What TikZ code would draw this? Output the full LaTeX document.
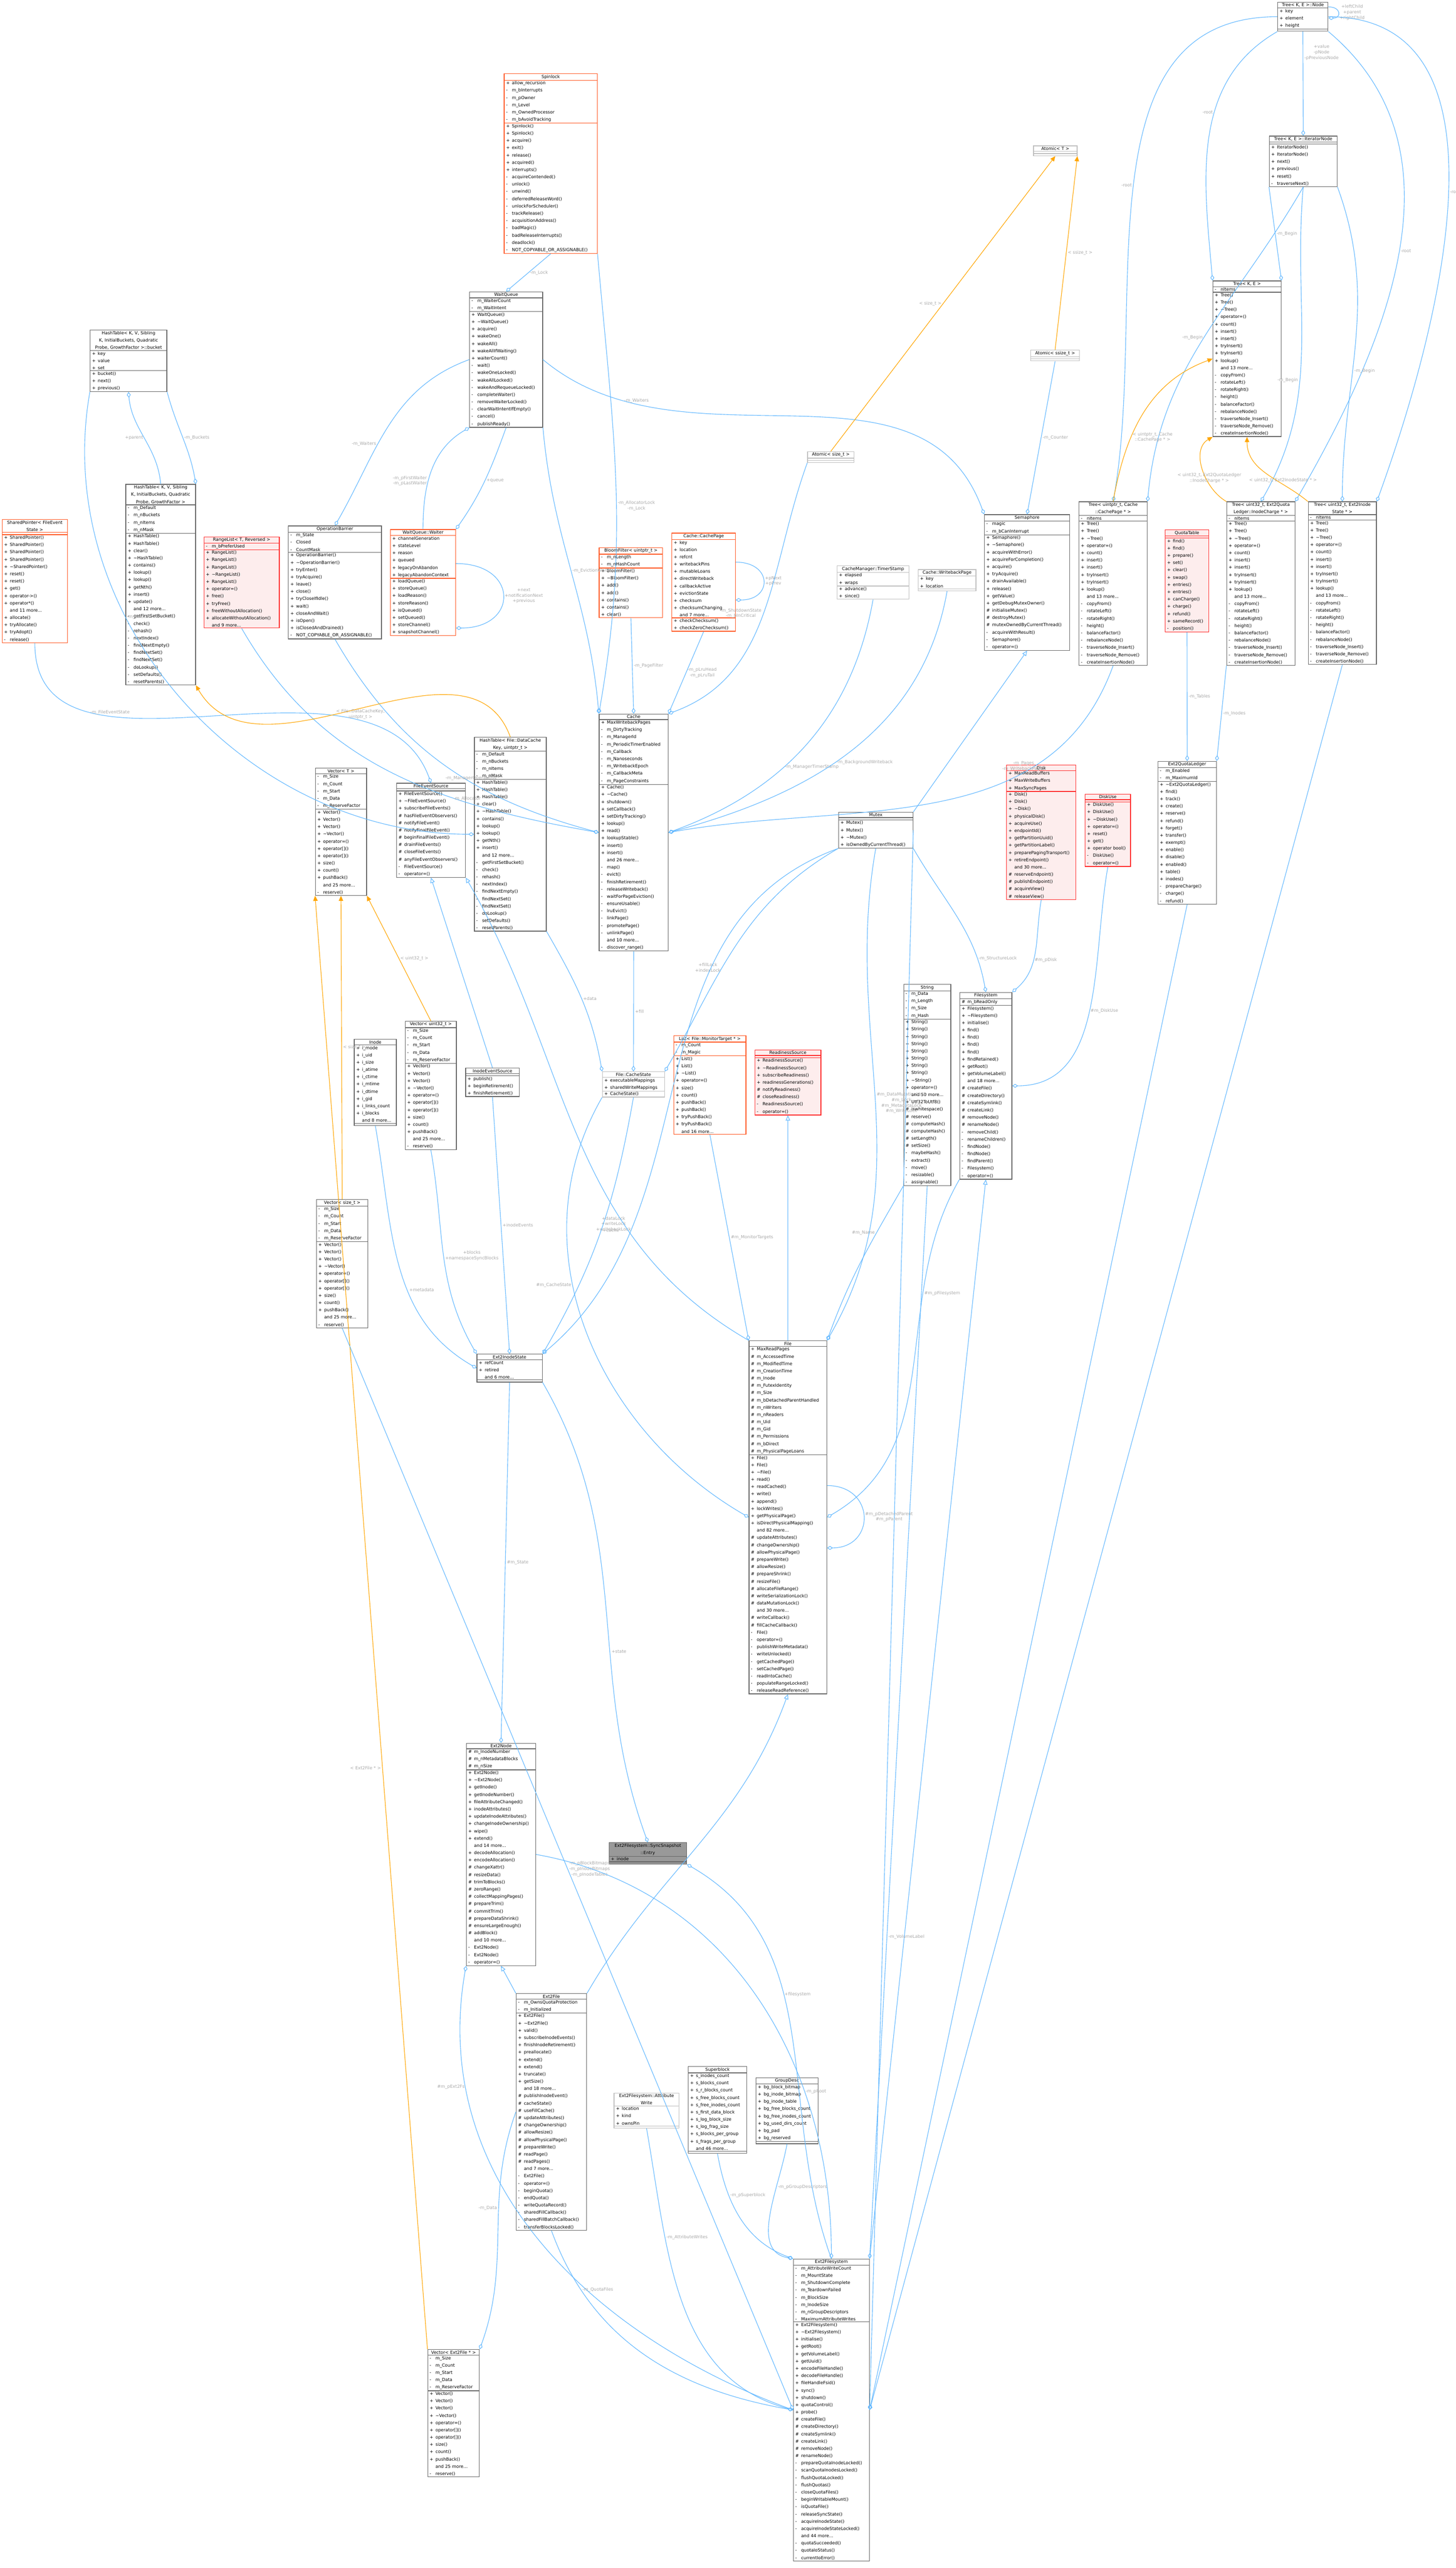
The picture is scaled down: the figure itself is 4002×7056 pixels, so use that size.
\documentclass[tikz,border=0pt]{standalone}
\usepackage{fontspec}
\setmainfont{DejaVu Sans}
\usetikzlibrary{shapes.multipart,arrows.meta}
\setlength\parindent{0pt}

\definecolor{edgeblue}{HTML}{63B8FF}
\definecolor{tmplorange}{HTML}{FFA500}
\definecolor{boxgrey}{HTML}{666666}
\definecolor{lightgrey}{HTML}{BFBFBF}
\definecolor{hotborder}{HTML}{FF5722}
\definecolor{redborder}{HTML}{FF2A2A}
\definecolor{redfill}{HTML}{FDEDED}
\definecolor{lblgrey}{HTML}{A8A8A8}
\definecolor{mainfill}{HTML}{999999}

% member rows
\newcommand\mpub[1]{\makebox[0.16cm][l]{+}#1\par}
\newcommand\mpro[1]{\makebox[0.16cm][l]{\#}#1\par}
\newcommand\mpri[1]{\makebox[0.16cm][l]{-}#1\par}
\newcommand\mmore[1]{\hspace*{0.16cm}#1\par}
\newcommand\ttl[1]{{\centering #1\par}}

\tikzset{
  cls/.style={rectangle split, rectangle split parts=3, draw=boxgrey, fill=white,
    line width=0.5pt, anchor=north west, align=left, inner xsep=1.5pt, inner ysep=0.6pt,
    rectangle split empty part height=0.1cm,
    font=\fontsize{3.4}{5.69}\selectfont},
  light/.style={cls, draw=lightgrey},
  hot/.style={cls, draw=hotborder},
  warn/.style={cls, draw=redborder, fill=redfill},
  main/.style={cls, fill=mainfill},
  agg/.style={edgeblue, line width=0.45pt, -{Diamond[open,length=4.5pt,width=3pt]}},
  inh/.style={edgeblue, line width=0.45pt, -{Triangle[open,length=4pt,width=3.5pt]}},
  tmpl/.style={tmplorange, line width=0.45pt, -{Triangle[length=4pt,width=3.5pt]}},
  lbl/.style={text=lblgrey, font=\fontsize{3.4}{4.3}\selectfont, align=center, inner sep=1pt},
}

\begin{document}
\catcode`\_=12
\catcode`\~=12
\begin{tikzpicture}[x=0.01cm, y=-0.01cm]
    \useasboundingbox (0,0) rectangle (4002,7056);

    % Locks and wait queues
    \node[hot, text width=2.45cm] (spin) at (1385,202) {\ttl{Spinlock}
      \nodepart{two}\mpub{allow_recursion}\mpri{m_bInterrupts}\mpri{m_pOwner}\mpri{m_Level}\mpri{m_OwnedProcessor}\mpri{m_bAvoidTracking}
      \nodepart{three}\mpub{Spinlock()}\mpub{Spinlock()}\mpub{acquire()}\mpub{exit()}\mpub{release()}\mpub{acquired()}\mpub{interrupts()}\mpri{acquireContended()}\mpri{unlock()}\mpri{unwind()}\mpri{deferredReleaseWord()}\mpri{unlockForScheduler()}\mpri{trackRelease()}\mpri{acquisitionAddress()}\mpri{badMagic()}\mpri{badReleaseInterrupts()}\mpri{deadlock()}\mpri{NOT_COPYABLE_OR_ASSIGNABLE()}};
    \node[cls, text width=1.90cm] (wq) at (1290,801) {\ttl{WaitQueue}
      \nodepart{two}\mpri{m_WaiterCount}\mpri{m_WaitIntent}
      \nodepart{three}\mpub{WaitQueue()}\mpub{~WaitQueue()}\mpub{acquire()}\mpub{wakeOne()}\mpub{wakeAll()}\mpub{wakeAllIfWaiting()}\mpub{waiterCount()}\mpri{wait()}\mpri{wakeOneLocked()}\mpri{wakeAllLocked()}\mpri{wakeAndRequeueLocked()}\mpri{completeWaiter()}\mpri{removeWaiterLocked()}\mpri{clearWaitIntentIfEmpty()}\mpri{cancel()}\mpri{publishReady()}};
    \node[hot, text width=1.69cm] (waiter) at (1072,1454) {\ttl{WaitQueue::Waiter}
      \nodepart{two}\mpub{channelGeneration}\mpub{stateLevel}\mpub{reason}\mpub{queued}\mpub{legacyOnAbandon}\mpub{legacyAbandonContext}
      \nodepart{three}\mpub{loadQueue()}\mpub{storeQueue()}\mpub{loadReason()}\mpub{storeReason()}\mpub{isQueued()}\mpub{setQueued()}\mpub{storeChannel()}\mpub{snapshotChannel()}};
    \node[cls, text width=2.45cm] (ob) at (792,1444) {\ttl{OperationBarrier}
      \nodepart{two}\mpri{m_State}\mpri{Closed}\mpri{CountMask}
      \nodepart{three}\mpub{OperationBarrier()}\mpub{~OperationBarrier()}\mpub{tryEnter()}\mpub{tryAcquire()}\mpub{leave()}\mpub{close()}\mpub{tryCloseIfIdle()}\mpub{wait()}\mpub{closeAndWait()}\mpub{isOpen()}\mpub{isClosedAndDrained()}\mpri{NOT_COPYABLE_OR_ASSIGNABLE()}};
    \node[warn, text width=1.96cm] (rl) at (560,1474) {\ttl{RangeList< T, Reversed >}
      \nodepart{two}\mpri{m_bPreferUsed}
      \nodepart{three}\mpub{RangeList()}\mpub{RangeList()}\mpub{RangeList()}\mpub{~RangeList()}\mpub{RangeList()}\mpub{operator=()}\mpub{free()}\mpub{tryFree()}\mpub{freeWithoutAllocation()}\mpub{allocateWithoutAllocation()}\mmore{and 9 more...}};
    \node[hot, text width=1.69cm] (sp) at (5,1427) {\ttl{SharedPointer< FileEvent\\State >}
      \nodepart{two}
      \nodepart{three}\mpub{SharedPointer()}\mpub{SharedPointer()}\mpub{SharedPointer()}\mpub{SharedPointer()}\mpub{~SharedPointer()}\mpub{reset()}\mpub{reset()}\mpub{get()}\mpub{operator->()}\mpub{operator*()}\mmore{and 11 more...}\mpub{allocate()}\mpub{tryAllocate()}\mpub{tryAdopt()}\mpri{release()}};

    % Hash tables
    \node[cls, text width=2.00cm] (bucket) at (247,906) {\ttl{HashTable< K, V, Sibling\\K, InitialBuckets, Quadratic\\Probe, GrowthFactor >::bucket}
      \nodepart{two}\mpub{key}\mpub{value}\mpub{set}
      \nodepart{three}\mpub{bucket()}\mpub{next()}\mpub{previous()}};
    \node[cls, text width=1.81cm] (ht) at (345,1330) {\ttl{HashTable< K, V, Sibling\\K, InitialBuckets, Quadratic\\Probe, GrowthFactor >}
      \nodepart{two}\mpri{m_Default}\mpri{m_nBuckets}\mpri{m_nItems}\mpri{m_nMask}
      \nodepart{three}\mpub{HashTable()}\mpub{HashTable()}\mpub{clear()}\mpub{~HashTable()}\mpub{contains()}\mpub{lookup()}\mpub{lookup()}\mpub{getNth()}\mpub{insert()}\mpub{update()}\mmore{and 12 more...}\mpri{getFirstSetBucket()}\mpri{check()}\mpri{rehash()}\mpri{nextIndex()}\mpri{findNextEmpty()}\mpri{findNextSet()}\mpri{findNextSet()}\mpri{doLookup()}\mpri{setDefaults()}\mpri{resetParents()}};
    \node[cls, text width=1.87cm] (htdc) at (1303,2025) {\ttl{HashTable< File::DataCache\\Key, uintptr_t >}
      \nodepart{two}\mpri{m_Default}\mpri{m_nBuckets}\mpri{m_nItems}\mpri{m_nMask}
      \nodepart{three}\mpub{HashTable()}\mpub{HashTable()}\mpub{HashTable()}\mpub{clear()}\mpub{~HashTable()}\mpub{contains()}\mpub{lookup()}\mpub{lookup()}\mpub{getNth()}\mpub{insert()}\mmore{and 12 more...}\mpri{getFirstSetBucket()}\mpri{check()}\mpri{rehash()}\mpri{nextIndex()}\mpri{findNextEmpty()}\mpri{findNextSet()}\mpri{findNextSet()}\mpri{doLookup()}\mpri{setDefaults()}\mpri{resetParents()}};

    % Cache and its parts
    \node[hot, text width=1.64cm] (bloom) at (1646,1504) {\ttl{BloomFilter< uintptr_t >}
      \nodepart{two}\mpri{m_nLength}\mpri{m_nHashCount}
      \nodepart{three}\mpub{BloomFilter()}\mpub{~BloomFilter()}\mpub{add()}\mpub{add()}\mpub{contains()}\mpub{contains()}\mpub{clear()}};
    \node[hot, text width=1.64cm] (cp) at (1846,1464) {\ttl{Cache::CachePage}
      \nodepart{two}\mpub{key}\mpub{location}\mpub{refcnt}\mpub{writebackPins}\mpub{mutableLoans}\mpub{directWriteback}\mpub{callbackActive}\mpub{evictionState}\mpub{checksum}\mpub{checksumChanging}\mmore{and 7 more...}
      \nodepart{three}\mpub{checkChecksum()}\mpub{checkZeroChecksum()}};
    \node[light, text width=1.87cm] (ts) at (2300,1554) {\ttl{CacheManager::TimerStamp}
      \nodepart{two}\mpub{elapsed}\mpub{wraps}
      \nodepart{three}\mpub{advance()}\mpub{since()}};
    \node[light, text width=1.48cm] (wbp) at (2523,1564) {\ttl{Cache::WritebackPage}
      \nodepart{two}\mpub{key}\mpub{location}
      \nodepart{three}};
    \node[light, text width=1.09cm] (atomt) at (2840,400) {\ttl{Atomic< T >}\nodepart{two}\nodepart{three}};
    \node[light, text width=1.17cm] (asize) at (2219,1240) {\ttl{Atomic< size_t >}\nodepart{two}\nodepart{three}};
    \node[light, text width=1.24cm] (assize) at (2832,961) {\ttl{Atomic< ssize_t >}\nodepart{two}\nodepart{three}};
    \node[cls, text width=1.79cm] (cache) at (1646,1961) {\ttl{Cache}
      \nodepart{two}\mpub{MaxWritebackPages}\mpri{m_DirtyTracking}\mpri{m_ManagerId}\mpri{m_PeriodicTimerEnabled}\mpri{m_Callback}\mpri{m_Nanoseconds}\mpri{m_WritebackEpoch}\mpri{m_CallbackMeta}\mpri{m_PageConstraints}
      \nodepart{three}\mpub{Cache()}\mpub{~Cache()}\mpub{shutdown()}\mpub{setCallback()}\mpub{setDirtyTracking()}\mpub{lookup()}\mpub{read()}\mpub{lookupStable()}\mpub{insert()}\mpub{insert()}\mmore{and 26 more...}\mpri{map()}\mpri{evict()}\mpri{finishRetirement()}\mpri{releaseWriteback()}\mpri{waitForPageEviction()}\mpri{ensureUsable()}\mpri{lruEvict()}\mpri{linkPage()}\mpri{promotePage()}\mpri{unlinkPage()}\mmore{and 10 more...}\mpri{discover_range()}};
    \node[cls, text width=2.24cm] (sem) at (2705,1413) {\ttl{Semaphore}
      \nodepart{two}\mpri{magic}\mpri{m_bCanInterrupt}
      \nodepart{three}\mpub{Semaphore()}\mpub{~Semaphore()}\mpub{acquireWithError()}\mpub{acquireForCompletion()}\mpub{acquire()}\mpub{tryAcquire()}\mpub{drainAvailable()}\mpub{release()}\mpub{getValue()}\mpub{getDebugMutexOwner()}\mpro{initialiseMutex()}\mpro{destroyMutex()}\mpro{mutexOwnedByCurrentThread()}\mpri{acquireWithResult()}\mpri{Semaphore()}\mpri{operator=()}};
    \node[cls, text width=1.94cm] (mutex) at (2304,2231) {\ttl{Mutex}
      \nodepart{two}
      \nodepart{three}\mpub{Mutex()}\mpub{Mutex()}\mpub{~Mutex()}\mpub{isOwnedByCurrentThread()}};

    % Trees
    \node[cls, text width=1.28cm] (tnode) at (3511,5) {\ttl{Tree< K, E >::Node}
      \nodepart{two}\mpub{key}\mpub{element}\mpub{height}
      \nodepart{three}};
    \node[cls, text width=1.76cm] (itnode) at (3488,373) {\ttl{Tree< K, E >::IteratorNode}
      \nodepart{two}
      \nodepart{three}\mpub{IteratorNode()}\mpub{IteratorNode()}\mpub{next()}\mpub{previous()}\mpub{reset()}\mpri{traverseNext()}};
    \node[cls, text width=1.77cm] (tke) at (3333,771) {\ttl{Tree< K, E >}
      \nodepart{two}\mpri{nItems}
      \nodepart{three}\mpub{Tree()}\mpub{Tree()}\mpub{~Tree()}\mpub{operator=()}\mpub{count()}\mpub{insert()}\mpub{insert()}\mpub{tryInsert()}\mpub{tryInsert()}\mpub{lookup()}\mmore{and 13 more...}\mpri{copyFrom()}\mpri{rotateLeft()}\mpri{rotateRight()}\mpri{height()}\mpri{balanceFactor()}\mpri{rebalanceNode()}\mpri{traverseNode_Insert()}\mpri{traverseNode_Remove()}\mpri{createInsertionNode()}};
    \node[cls, text width=1.77cm] (tcache) at (2965,1378) {\ttl{Tree< uintptr_t, Cache\\::CachePage * >}
      \nodepart{two}\mpri{nItems}
      \nodepart{three}\mpub{Tree()}\mpub{Tree()}\mpub{~Tree()}\mpub{operator=()}\mpub{count()}\mpub{insert()}\mpub{insert()}\mpub{tryInsert()}\mpub{tryInsert()}\mpub{lookup()}\mmore{and 13 more...}\mpri{copyFrom()}\mpri{rotateLeft()}\mpri{rotateRight()}\mpri{height()}\mpri{balanceFactor()}\mpri{rebalanceNode()}\mpri{traverseNode_Insert()}\mpri{traverseNode_Remove()}\mpri{createInsertionNode()}};
    \node[cls, text width=1.77cm] (tquota) at (3371,1378) {\ttl{Tree< uint32_t, Ext2Quota\\Ledger::InodeCharge * >}
      \nodepart{two}\mpri{nItems}
      \nodepart{three}\mpub{Tree()}\mpub{Tree()}\mpub{~Tree()}\mpub{operator=()}\mpub{count()}\mpub{insert()}\mpub{insert()}\mpub{tryInsert()}\mpub{tryInsert()}\mpub{lookup()}\mmore{and 13 more...}\mpri{copyFrom()}\mpri{rotateLeft()}\mpri{rotateRight()}\mpri{height()}\mpri{balanceFactor()}\mpri{rebalanceNode()}\mpri{traverseNode_Insert()}\mpri{traverseNode_Remove()}\mpri{createInsertionNode()}};
    \node[cls, text width=1.77cm] (tinode) at (3595,1378) {\ttl{Tree< uint32_t, Ext2Inode\\State * >}
      \nodepart{two}\mpri{nItems}
      \nodepart{three}\mpub{Tree()}\mpub{Tree()}\mpub{~Tree()}\mpub{operator=()}\mpub{count()}\mpub{insert()}\mpub{insert()}\mpub{tryInsert()}\mpub{tryInsert()}\mpub{lookup()}\mmore{and 13 more...}\mpri{copyFrom()}\mpri{rotateLeft()}\mpri{rotateRight()}\mpri{height()}\mpri{balanceFactor()}\mpri{rebalanceNode()}\mpri{traverseNode_Insert()}\mpri{traverseNode_Remove()}\mpri{createInsertionNode()}};
    \node[warn, text width=1.09cm] (qt) at (3202,1455) {\ttl{QuotaTable}
      \nodepart{two}
      \nodepart{three}\mpub{find()}\mpub{find()}\mpub{prepare()}\mpub{set()}\mpub{clear()}\mpub{swap()}\mpub{entries()}\mpub{entries()}\mpub{canCharge()}\mpub{charge()}\mpub{refund()}\mpub{sameRecord()}\mpri{position()}};

    % Disks and ledgers
    \node[warn, text width=1.80cm] (disk) at (2766,2101) {\ttl{Disk}
      \nodepart{two}\mpub{MaxReadBuffers}\mpub{MaxWriteBuffers}\mpub{MaxSyncPages}
      \nodepart{three}\mpub{Disk()}\mpub{Disk()}\mpub{~Disk()}\mpub{physicalDisk()}\mpub{acquireUse()}\mpub{endpointId()}\mpub{getPartitionUuid()}\mpub{getPartitionLabel()}\mpub{preparePagingTransport()}\mpub{retireEndpoint()}\mmore{and 30 more...}\mpro{reserveEndpoint()}\mpro{publishEndpoint()}\mpro{acquireView()}\mpro{releaseView()}};
    \node[warn, text width=1.14cm] (diskuse) at (2982,2181) {\ttl{DiskUse}
      \nodepart{two}
      \nodepart{three}\mpub{DiskUse()}\mpub{DiskUse()}\mpub{~DiskUse()}\mpub{operator=()}\mpub{reset()}\mpub{get()}\mpub{operator bool()}\mpri{DiskUse()}\mpri{operator=()}};
    \node[cls, text width=1.50cm] (eql) at (3182,2091) {\ttl{Ext2QuotaLedger}
      \nodepart{two}\mpri{m_Enabled}\mpri{m_MaximumId}
      \nodepart{three}\mpub{~Ext2QuotaLedger()}\mpub{find()}\mpub{track()}\mpub{create()}\mpub{reserve()}\mpub{refund()}\mpub{forget()}\mpub{transfer()}\mpub{exempt()}\mpub{enable()}\mpub{disable()}\mpub{enabled()}\mpub{table()}\mpub{inodes()}\mpri{prepareCharge()}\mpri{charge()}\mpri{refund()}};

    % Files
    \node[cls, text width=1.33cm] (fs) at (2637,2726) {\ttl{Filesystem}
      \nodepart{two}\mpro{m_bReadOnly}
      \nodepart{three}\mpub{Filesystem()}\mpub{~Filesystem()}\mpub{initialise()}\mpub{find()}\mpub{find()}\mpub{find()}\mpub{find()}\mpub{findRetained()}\mpub{getRoot()}\mpub{getVolumeLabel()}\mmore{and 18 more...}\mpro{createFile()}\mpro{createDirectory()}\mpro{createSymlink()}\mpro{createLink()}\mpro{removeNode()}\mpro{renameNode()}\mpri{removeChild()}\mpri{renameChildren()}\mpri{findNode()}\mpri{findNode()}\mpri{findParent()}\mpri{Filesystem()}\mpri{operator=()}};
    \node[cls, text width=1.19cm] (string) at (2483,2704) {\ttl{String}
      \nodepart{two}\mpri{m_Data}\mpri{m_Length}\mpri{m_Size}\mpri{m_Hash}
      \nodepart{three}\mpub{String()}\mpub{String()}\mpub{String()}\mpub{String()}\mpub{String()}\mpub{String()}\mpub{String()}\mpub{String()}\mpub{~String()}\mpub{operator=()}\mmore{and 50 more...}\mpub{Utf32ToUtf8()}\mpro{iswhitespace()}\mpro{reserve()}\mpro{computeHash()}\mpro{computeHash()}\mpro{setLength()}\mpro{setSize()}\mpri{maybeHash()}\mpri{extract()}\mpri{move()}\mpri{resizable()}\mpri{assignable()}};
    \node[hot, text width=1.88cm] (list) at (1851,2845) {\ttl{List< File::MonitorTarget * >}
      \nodepart{two}\mpri{m_Count}\mpri{m_Magic}
      \nodepart{three}\mpub{List()}\mpub{List()}\mpub{~List()}\mpub{operator=()}\mpub{size()}\mpub{count()}\mpub{pushBack()}\mpub{pushBack()}\mpub{tryPushBack()}\mpub{tryPushBack()}\mmore{and 16 more...}};
    \node[warn, text width=1.71cm] (rsrc) at (2074,2884) {\ttl{ReadinessSource}
      \nodepart{two}
      \nodepart{three}\mpub{ReadinessSource()}\mpub{~ReadinessSource()}\mpub{subscribeReadiness()}\mpub{readinessGenerations()}\mpro{notifyReadiness()}\mpro{closeReadiness()}\mpri{ReadinessSource()}\mpri{operator=()}};
    \node[light, text width=1.60cm] (cstate) at (1655,2944) {\ttl{File::CacheState}
      \nodepart{two}\mpub{executableMappings}\mpub{sharedWriteMappings}
      \nodepart{three}\mpub{CacheState()}};
    \node[cls, text width=1.37cm] (ies) at (1279,2934) {\ttl{InodeEventSource}
      \nodepart{two}
      \nodepart{three}\mpub{publish()}\mpub{beginRetirement()}\mpub{finishRetirement()}};
    \node[cls, text width=1.79cm] (fes) at (1089,2151) {\ttl{FileEventSource}
      \nodepart{two}
      \nodepart{three}\mpub{FileEventSource()}\mpub{~FileEventSource()}\mpub{subscribeFileEvents()}\mpro{hasFileEventObservers()}\mpro{notifyFileEvent()}\mpro{notifyFinalFileEvent()}\mpro{beginFinalFileEvent()}\mpro{drainFileEvents()}\mpro{closeFileEvents()}\mpro{anyFileEventObservers()}\mpri{FileEventSource()}\mpri{operator=()}};
    \node[cls, text width=2.03cm] (file) at (2058,3683) {\ttl{File}
      \nodepart{two}\mpub{MaxReadPages}\mpro{m_AccessedTime}\mpro{m_ModifiedTime}\mpro{m_CreationTime}\mpro{m_Inode}\mpro{m_FutexIdentity}\mpro{m_Size}\mpro{m_bDetachedParentHandled}\mpro{m_nWriters}\mpro{m_nReaders}\mpro{m_Uid}\mpro{m_Gid}\mpro{m_Permissions}\mpro{m_bDirect}\mpro{m_PhysicalPageLoans}
      \nodepart{three}\mpub{File()}\mpub{File()}\mpub{~File()}\mpub{read()}\mpub{readCached()}\mpub{write()}\mpub{append()}\mpub{lockWrites()}\mpub{getPhysicalPage()}\mpub{isDirectPhysicalMapping()}\mmore{and 82 more...}\mpro{updateAttributes()}\mpro{changeOwnership()}\mpro{allowPhysicalPage()}\mpro{prepareWrite()}\mpro{allowResize()}\mpro{prepareShrink()}\mpro{resizeFile()}\mpro{allocateFileRange()}\mpro{writeSerializationLock()}\mpro{dataMutationLock()}\mmore{and 30 more...}\mpro{writeCallback()}\mpro{fillCacheCallback()}\mpri{File()}\mpri{operator=()}\mpri{publishWriteMetadata()}\mpri{writeUnlocked()}\mpri{getCachedPage()}\mpri{setCachedPage()}\mpri{readIntoCache()}\mpri{populateRangeLocked()}\mpri{releaseReadReference()}};

    % Vectors and inode data
    \node[cls, text width=1.30cm] (vt) at (866,2110) {\ttl{Vector< T >}
      \nodepart{two}\mpri{m_Size}\mpri{m_Count}\mpri{m_Start}\mpri{m_Data}\mpri{m_ReserveFactor}
      \nodepart{three}\mpub{Vector()}\mpub{Vector()}\mpub{Vector()}\mpub{~Vector()}\mpub{operator=()}\mpub{operator[]()}\mpub{operator[]()}\mpub{size()}\mpub{count()}\mpub{pushBack()}\mmore{and 25 more...}\mpri{reserve()}};
    \node[cls, text width=1.30cm] (vu32) at (1113,2805) {\ttl{Vector< uint32_t >}
      \nodepart{two}\mpri{m_Size}\mpri{m_Count}\mpri{m_Start}\mpri{m_Data}\mpri{m_ReserveFactor}
      \nodepart{three}\mpub{Vector()}\mpub{Vector()}\mpub{Vector()}\mpub{~Vector()}\mpub{operator=()}\mpub{operator[]()}\mpub{operator[]()}\mpub{size()}\mpub{count()}\mpub{pushBack()}\mmore{and 25 more...}\mpri{reserve()}};
    \node[cls, text width=1.31cm] (vsize) at (869,3295) {\ttl{Vector< size_t >}
      \nodepart{two}\mpri{m_Size}\mpri{m_Count}\mpri{m_Start}\mpri{m_Data}\mpri{m_ReserveFactor}
      \nodepart{three}\mpub{Vector()}\mpub{Vector()}\mpub{Vector()}\mpub{~Vector()}\mpub{operator=()}\mpub{operator[]()}\mpub{operator[]()}\mpub{size()}\mpub{count()}\mpub{pushBack()}\mmore{and 25 more...}\mpri{reserve()}};
    \node[cls, text width=1.31cm] (vext) at (1175,6455) {\ttl{Vector< Ext2File * >}
      \nodepart{two}\mpri{m_Size}\mpri{m_Count}\mpri{m_Start}\mpri{m_Data}\mpri{m_ReserveFactor}
      \nodepart{three}\mpub{Vector()}\mpub{Vector()}\mpub{Vector()}\mpub{~Vector()}\mpub{operator=()}\mpub{operator[]()}\mpub{operator[]()}\mpub{size()}\mpub{count()}\mpub{pushBack()}\mmore{and 25 more...}\mpri{reserve()}};
    \node[cls, text width=1.05cm] (inode) at (973,2855) {\ttl{Inode}
      \nodepart{two}\mpub{i_mode}\mpub{i_uid}\mpub{i_size}\mpub{i_atime}\mpub{i_ctime}\mpub{i_mtime}\mpub{i_dtime}\mpub{i_gid}\mpub{i_links_count}\mpub{i_blocks}\mmore{and 8 more...}
      \nodepart{three}};
    \node[cls, text width=1.69cm] (eistate) at (1310,3720) {\ttl{Ext2InodeState}
      \nodepart{two}\mpub{refCount}\mpub{retired}\mmore{and 6 more...}
      \nodepart{three}};

    % Ext2
    \node[cls, text width=1.80cm] (e2node) at (1281,4789) {\ttl{Ext2Node}
      \nodepart{two}\mpro{m_InodeNumber}\mpro{m_nMetadataBlocks}\mpro{m_nSize}
      \nodepart{three}\mpub{Ext2Node()}\mpub{~Ext2Node()}\mpub{getInode()}\mpub{getInodeNumber()}\mpub{fileAttributeChanged()}\mpub{inodeAttributes()}\mpub{updateInodeAttributes()}\mpub{changeInodeOwnership()}\mpub{wipe()}\mpub{extend()}\mmore{and 14 more...}\mpub{decodeAllocation()}\mpub{encodeAllocation()}\mpro{changeXattr()}\mpro{resizeData()}\mpro{trimToBlocks()}\mpro{zeroRange()}\mpro{collectMappingPages()}\mpro{prepareTrim()}\mpro{commitTrim()}\mpro{prepareDataShrink()}\mpro{ensureLargeEnough()}\mpro{addBlock()}\mmore{and 10 more...}\mpri{Ext2Node()}\mpri{Ext2Node()}\mpri{operator=()}};
    \node[main, text width=2.03cm] (entry) at (1673,5062) {\ttl{Ext2Filesystem::SyncSnapshot\\::Entry}
      \nodepart{two}\mpub{inode}
      \nodepart{three}};
    \node[cls, text width=1.83cm] (e2file) at (1418,5477) {\ttl{Ext2File}
      \nodepart{two}\mpri{m_OwnsQuotaProtection}\mpri{m_Initialized}
      \nodepart{three}\mpub{Ext2File()}\mpub{~Ext2File()}\mpub{valid()}\mpub{subscribeInodeEvents()}\mpub{finishInodeRetirement()}\mpub{preallocate()}\mpub{extend()}\mpub{extend()}\mpub{truncate()}\mpub{getSize()}\mmore{and 18 more...}\mpro{publishInodeEvent()}\mpro{cacheState()}\mpro{useFillCache()}\mpro{updateAttributes()}\mpro{changeOwnership()}\mpro{allowResize()}\mpro{allowPhysicalPage()}\mpro{prepareWrite()}\mpro{readPage()}\mpro{readPages()}\mmore{and 7 more...}\mpri{Ext2File()}\mpri{operator=()}\mpri{beginQuota()}\mpri{endQuota()}\mpri{writeQuotaRecord()}\mpri{sharedFillCallback()}\mpri{sharedFillBatchCallback()}\mpri{transferBlocksLocked()}};
    \node[light, text width=1.68cm] (aw) at (1687,5750) {\ttl{Ext2Filesystem::Attribute\\Write}
      \nodepart{two}\mpub{location}\mpub{kind}\mpub{ownsPin}
      \nodepart{three}};
    \node[cls, text width=1.50cm] (sb) at (1891,5677) {\ttl{Superblock}
      \nodepart{two}\mpub{s_inodes_count}\mpub{s_blocks_count}\mpub{s_r_blocks_count}\mpub{s_free_blocks_count}\mpub{s_free_inodes_count}\mpub{s_first_data_block}\mpub{s_log_block_size}\mpub{s_log_frag_size}\mpub{s_blocks_per_group}\mpub{s_frags_per_group}\mmore{and 46 more...}
      \nodepart{three}};
    \node[cls, text width=1.60cm] (gd) at (2077,5708) {\ttl{GroupDesc}
      \nodepart{two}\mpub{bg_block_bitmap}\mpub{bg_inode_bitmap}\mpub{bg_inode_table}\mpub{bg_free_blocks_count}\mpub{bg_free_inodes_count}\mpub{bg_used_dirs_count}\mpub{bg_pad}\mpub{bg_reserved}
      \nodepart{three}};
    \node[cls, text width=1.98cm] (e2fs) at (2180,6206) {\ttl{Ext2Filesystem}
      \nodepart{two}\mpri{m_AttributeWriteCount}\mpri{m_MountState}\mpri{m_ShutdownComplete}\mpri{m_TeardownFailed}\mpri{m_BlockSize}\mpri{m_InodeSize}\mpri{m_nGroupDescriptors}\mpri{MaximumAttributeWrites}
      \nodepart{three}\mpub{Ext2Filesystem()}\mpub{~Ext2Filesystem()}\mpub{initialise()}\mpub{getRoot()}\mpub{getVolumeLabel()}\mpub{getUuid()}\mpub{encodeFileHandle()}\mpub{decodeFileHandle()}\mpub{fileHandleFsid()}\mpub{sync()}\mpub{shutdown()}\mpub{quotaControl()}\mpub{probe()}\mpro{createFile()}\mpro{createDirectory()}\mpro{createSymlink()}\mpro{createLink()}\mpro{removeNode()}\mpro{renameNode()}\mpri{prepareQuotaInodeLocked()}\mpri{scanQuotaInodesLocked()}\mpri{flushQuotaLocked()}\mpri{flushQuotas()}\mpri{closeQuotaFiles()}\mpri{beginWritableMount()}\mpri{isQuotaFile()}\mpri{releaseSyncState()}\mpri{acquireInodeState()}\mpri{acquireInodeStateLocked()}\mmore{and 44 more...}\mpri{quotaSucceeded()}\mpri{quotaIoStatus()}\mpri{currentIoError()}};

    % Connectors: locks and queues
    \draw[agg] (spin.south) -- node[lbl,right]{-m_Lock} (wq.north);
    \draw[agg] (spin.south east) to[out=-85,in=80] node[lbl,pos=.55,right]{-m_AllocatorLock\\-m_Lock} (cache.north west);
    \draw[agg] (wq.west) to[out=200,in=60] node[lbl,pos=.6,left]{-m_Waiters} (ob.north);
    \draw[agg] (waiter.north) to[out=90,in=210] node[lbl,pos=.4,left]{-m_pFirstWaiter\\-m_pLastWaiter} (wq.south west);
    \draw[agg] (wq.south) to[out=-110,in=55] node[lbl,pos=.5,right]{+queue} (waiter.north east);
    \draw[agg] (waiter.30) to[out=0,in=0,looseness=2.5] node[lbl,right]{+next\\+notificationNext\\+previous} (waiter.-54);
    \draw[agg] (wq.south east) to[out=-85,in=95] node[lbl,pos=.5,right]{-m_EvictionWaiters} (cache.north west);
    \draw[agg] (wq.east) to[out=-40,in=110] node[lbl,pos=.2,above]{-m_Waiters} (sem.north west);

    % Connectors: hash tables and sources
    \draw[agg] (ht.north) to[out=95,in=-85] node[lbl,pos=.5,left]{+parent} (bucket.south);
    \draw[agg] (bucket.south east) to[out=-75,in=100] node[lbl,pos=.5,right]{-m_Buckets} (ht.north east);
    \draw[agg] (bucket.south west) to[out=-100,in=180] node[lbl,pos=.35,right]{-m_Buckets} (htdc.west);
    \draw[agg] (sp.south) to[out=-90,in=110] node[lbl,pos=.25,right]{-m_FileEventState} (fes.north);
    \draw[agg] (rl.south) to[out=-60,in=170] node[lbl,pos=.7,above]{-m_Allocator} (cache.west);
    \draw[agg] (ob.south) to[out=-60,in=165] node[lbl,pos=.6,above]{-m_ManagerOperations} (cache.west);
    \draw[tmpl] (htdc.north) to[out=110,in=-60] node[lbl,pos=.5,below]{< File::DataCacheKey,\\uintptr_t >} (ht.south east);

    % Connectors: cache
    \draw[agg] (bloom.south) -- node[lbl,right]{-m_PageFilter} (cache.north);
    \draw[agg] (cp.south) -- node[lbl,right]{-m_pLruHead\\-m_pLruTail} (cache.north east);
    \draw[agg] (cp.32) to[out=0,in=0,looseness=2.5] node[lbl,right]{+pNext\\+pPrev} (cp.-29);
    \draw[agg] (ts.south) to[out=-100,in=20] node[lbl,pos=.6,right]{-m_ManagerTimerStamp} (cache.east);
    \draw[agg] (wbp.south) to[out=-100,in=15] node[lbl,pos=.55,right]{-m_BackgroundWriteback} (cache.east);
    \draw[agg] (asize.south west) to[out=-110,in=20] node[lbl,pos=.5,left]{-m_ShutdownState\\-m_bInCritical} (cache.north east);
    \draw[agg] (tcache.south) to[out=-110,in=10] node[lbl,pos=.3,above]{-m_Pages\\-m_WritebackPages} (cache.east);
    \draw[agg] (assize.south) -- node[lbl,right]{-m_Counter} (sem.north);
    \draw[inh] (mutex.north east) -- (sem.south);
    \draw[tmpl] (asize.north) -- node[lbl,pos=.5,left]{< size_t >} (atomt.south);
    \draw[tmpl] (assize.north) -- node[lbl,pos=.5,right]{< ssize_t >} (atomt.south east);

    % Connectors: trees
    \draw[agg] (tnode.south) -- node[lbl,right,pos=.2]{+value\\-pNode\\-pPreviousNode} (itnode.north);
    \draw[agg] (tnode.21) to[out=0,in=0,looseness=3] node[lbl,right]{+leftChild\\+parent\\+rightChild} (tnode.-3);
    \draw[agg] (tnode.south west) to[out=210,in=95] node[lbl,pos=.4,left]{-root} (tke.north west);
    \draw[agg] (tnode.west) to[out=180,in=80] node[lbl,pos=.5,left]{-root} (tcache.north);
    \draw[agg] (tnode.south east) to[out=-40,in=60] node[lbl,pos=.5,right]{-root} (tquota.north east);
    \draw[agg] (tnode.east) to[out=0,in=70] node[lbl,pos=.5,right]{-root} (tinode.north east);
    \draw[agg] (itnode.south west) -- node[lbl,right]{-m_Begin} (tke.north east);
    \draw[agg] (itnode.south) to[out=-120,in=85] node[lbl,pos=.5,left]{-m_Begin} (tcache.north east);
    \draw[agg] (itnode.south) to[out=-95,in=60] node[lbl,pos=.6,left]{-m_Begin} (tquota.north);
    \draw[agg] (itnode.south east) to[out=-70,in=90] node[lbl,pos=.6,right]{-m_Begin} (tinode.north);
    \draw[tmpl] (tcache.north) to[out=80,in=200] node[lbl,pos=.35,right]{< uintptr_t, Cache\\::CachePage * >} (tke.west);
    \draw[tmpl] (tquota.north west) to[out=150,in=210] node[lbl,pos=.3,above]{< uint32_t, Ext2QuotaLedger\\::InodeCharge * >} (tke.south west);
    \draw[tmpl] (tinode.north west) to[out=140,in=-90] node[lbl,pos=.3,above]{< uint32_t, Ext2InodeState * >} (tke.south);
    \draw[agg] (qt.south) -- node[lbl,right]{-m_Tables} (eql.north);
    \draw[agg] (tquota.south west) -- node[lbl,right]{-m_Inodes} (eql.north east);

    % Connectors: files
    \draw[agg] (mutex.south west) to[out=210,in=60] node[lbl,pos=.6,left]{+fillLock\\+indexLock} (cstate.north east);
    \draw[agg] (mutex.south west) to[out=200,in=40] node[lbl,pos=.75,left]{+dataLock\\+writeLock\\+writebackLock} (eistate.north east);
    \draw[agg] (mutex.south) to[out=-100,in=60] node[lbl,pos=.5,right]{\#m_DataMutationLock\\\#m_Lock\\\#m_MetadataLock\\\#m_WriteLock} (file.north east);
    \draw[agg] (mutex.south east) to[out=-60,in=100] node[lbl,pos=.8,right]{-m_StructureLock} (fs.north);
    \draw[agg] (cache.south) -- node[lbl,right]{+fill} (cstate.north);
    \draw[agg] (htdc.south east) to[out=-60,in=100] node[lbl,pos=.5,right]{+data} (cstate.north west);
    \draw[agg] (cstate.south) to[out=-100,in=60] node[lbl,pos=.5,right]{+cache} (eistate.north east);
    \draw[agg] (cstate.south west) to[out=-120,in=150] node[lbl,pos=.4,left]{\#m_CacheState} (file.west);
    \draw[agg] (list.south) -- node[lbl,right]{\#m_MonitorTargets} (file.north west);
    \draw[inh] (file.north) -- (rsrc.south);
    \draw[agg] (string.south west) to[out=-120,in=70] node[lbl,pos=.3,left]{\#m_Name} (file.north east);
    \draw[agg] (fs.south west) to[out=-120,in=30] node[lbl,pos=.3,right]{\#m_pFilesystem} (file.east);
    \draw[agg] (file.39) to[out=0,in=0,looseness=2] node[lbl,right]{\#m_pDetachedParent\\\#m_pParent} (file.-38);
    \draw[agg] (disk.south) to[out=-100,in=40] node[lbl,pos=.6,right]{\#m_pDisk} (fs.north east);
    \draw[agg] (diskuse.south) to[out=-100,in=0] node[lbl,pos=.5,right]{\#m_DiskUse} (fs.east);
    \draw[inh] (file.north west) to[out=150,in=-60] (fes.south east);
    \draw[inh] (ies.north) -- (fes.south);

    % Connectors: vectors and inode state
    \draw[tmpl] (vsize.north) -- node[lbl,right]{< size_t >} (vt.south);
    \draw[tmpl] (vu32.north) -- node[lbl,right]{< uint32_t >} (vt.south east);
    \draw[tmpl] (vext.north west) -- node[lbl,pos=.4,left]{< Ext2File * >} (vt.south west);
    \draw[agg] (inode.south) to[out=-80,in=150] node[lbl,pos=.6,right]{+metadata} (eistate.west);
    \draw[agg] (vu32.south) to[out=-80,in=120] node[lbl,pos=.5,right]{+blocks\\+namespaceSyncBlocks} (eistate.north west);
    \draw[agg] (ies.south) -- node[lbl,right]{+inodeEvents} (eistate.north);
    \draw[agg] (eistate.south) -- node[lbl,right]{\#m_State} (e2node.north);
    \draw[agg] (eistate.south east) to[out=-60,in=110] node[lbl,pos=.6,right]{+state} (entry.north);

    % Connectors: ext2
    \draw[inh] (e2file.north west) -- (e2node.south);
    \draw[inh] (e2file.north east) to[out=60,in=-110] (file.south);
    \draw[agg] (e2fs.west) to[out=160,in=-100] node[lbl,pos=.8,left]{\#m_pExt2Fs} (e2node.south west);
    \draw[agg] (e2file.west) to[out=-110,in=70] node[lbl,pos=.4,left]{-m_Data} (vext.north east);
    \draw[agg] (e2file.south) to[out=-70,in=170] node[lbl,pos=.2,right]{-m_QuotaFiles} (e2fs.west);
    \draw[agg] (vsize.south) -- node[lbl,pos=.5,right]{-m_pBlockBitmaps\\-m_pInodeBitmaps\\-m_pInodeTables} (e2fs.west);
    \draw[agg] (aw.south) to[out=-80,in=165] node[lbl,pos=.3,right]{-m_AttributeWrites} (e2fs.west);
    \draw[agg] (sb.south) to[out=-80,in=160] node[lbl,pos=.3,right]{-m_pSuperblock} (e2fs.north west);
    \draw[agg] (gd.south) to[out=-100,in=170] node[lbl,pos=.3,right]{-m_pGroupDescriptors} (e2fs.north west);
    \draw[agg] (e2fs.north) to[out=110,in=-30] node[lbl,pos=.6,right]{+filesystem} (entry.south east);
    \draw[agg] (e2node.east) to[out=-10,in=90] node[lbl,pos=.7,right]{-m_pRoot} (e2fs.north);
    \draw[inh] (e2fs.north east) -- (fs.south);
    \draw[agg] (string.south) -- node[lbl,pos=.7,right]{-m_VolumeLabel} (e2fs.north east);
    \draw[agg] (mutex.east) -- (e2fs.east);
    \draw[agg] (eql.south) -- (e2fs.east);
    \draw[agg] (tinode.south) -- (e2fs.east);
\end{tikzpicture}
\end{document}
